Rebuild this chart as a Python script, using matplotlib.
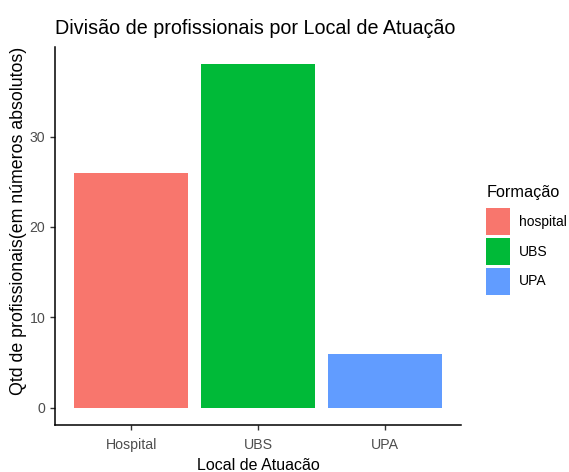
import matplotlib; matplotlib.use("Agg")
import matplotlib.pyplot as plt
from matplotlib.patches import Patch

plt.rcParams["font.family"] = ["Liberation Sans", "DejaVu Sans"]

locais = ["Hospital", "UBS", "UPA"]
qtd = [26, 38, 6]
legenda = ["hospital", "UBS", "UPA"]
cores = ["#F8766D", "#00BA38", "#619CFF"]

fig = plt.figure(figsize=(5.69, 4.72), dpi=100)
ax = fig.add_axes([0.0967, 0.0996, 0.7135, 0.8008])
x = range(len(locais))
ax.bar(x, qtd, width=0.9, color=cores)
ax.set_xlim(-0.6, 2.6)
ax.set_ylim(-1.9, 39.9)
ax.set_yticks([0, 10, 20, 30])
ax.set_xticks(list(x)); ax.set_xticklabels(locais)
for s in ["top", "right"]:
    ax.spines[s].set_visible(False)
for s in ["left", "bottom"]:
    ax.spines[s].set_linewidth(1.1)
ax.tick_params(colors="#333333", labelcolor="#4D4D4D", labelsize=10.2, length=3.5, width=1)
ax.tick_params(axis="x", pad=6)
ax.set_xlabel("Local de Atuacão", fontsize=11.5, labelpad=4)
ax.set_ylabel("Qtd de profissionais(em números absolutos)", fontsize=12.8)
ax.yaxis.set_label_coords(-0.068, 0.54)
fig.text(0.0967, 0.928, "Divisão de profissionais por Local de Atuação", fontsize=14.2, va="baseline")

handles = [Patch(facecolor=c, label=l) for c, l in zip(cores, legenda)]
leg = ax.legend(handles=handles, title="Formação", loc="center left", bbox_to_anchor=(1.062, 0.49),
                frameon=False, fontsize=10, title_fontsize=11.7, handlelength=1.73, handleheight=2.6,
                labelspacing=0.2, handletextpad=0.65, borderpad=0, borderaxespad=0)
leg._legend_box.align = "left"
leg._legend_box.sep = 6

plt.savefig("out.png", dpi=100)
plt.close()
